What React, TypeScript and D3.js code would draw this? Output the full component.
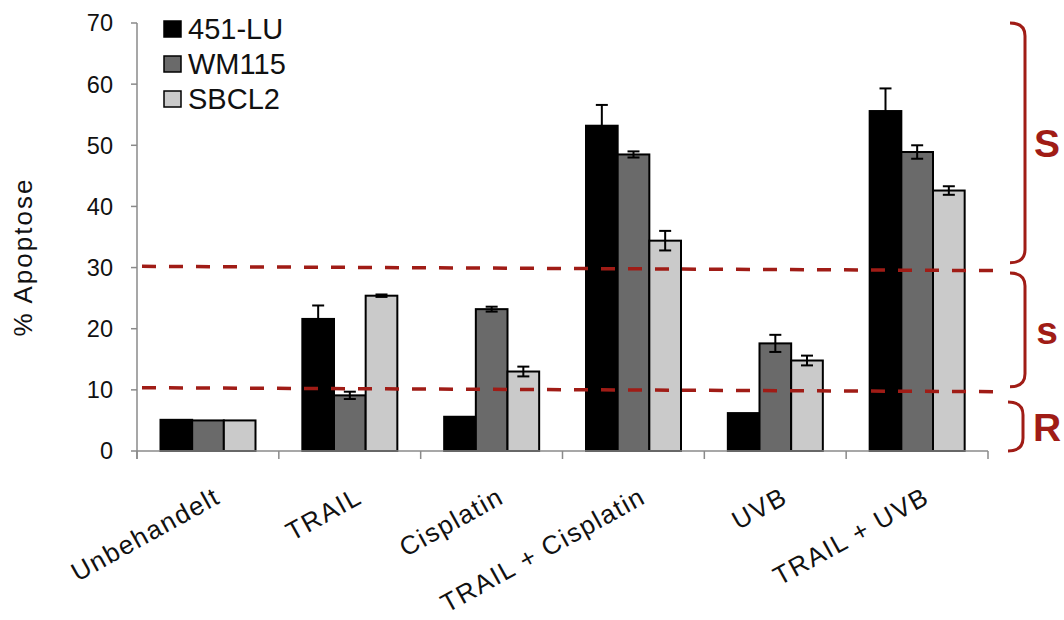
import React from "react";
import * as d3 from "d3";

// data
const categories = ["Unbehandelt", "TRAIL", "Cisplatin", "TRAIL + Cisplatin", "UVB", "TRAIL + UVB"];
const series = ["451-LU", "WM115", "SBCL2"];
const colors = ["#000000", "#6a6a6a", "#cacaca"];

const lu451 = [5.1, 21.6, 5.6, 53.2, 6.2, 55.6];
const lu451Err = [0, 2.2, 0, 3.4, 0, 3.7];
const wm115 = [5.0, 9.1, 23.2, 48.5, 17.6, 48.9];
const wm115Err = [0, 0.6, 0.4, 0.5, 1.4, 1.1];
const sbcl2 = [5.0, 25.4, 13.0, 34.4, 14.8, 42.6];
const sbcl2Err = [0, 0.2, 0.8, 1.6, 0.8, 0.7];

const yTicks = [0, 10, 20, 30, 40, 50, 60, 70];

// dashed threshold lines (value at left end, value at right end)
const thresholds = [
  { left: 30.2, right: 29.5 },
  { left: 10.35, right: 9.7 },
];

// bracket ranges with their labels
const brackets = [
  { label: "S", from: 70, to: 30.8, x: 1025 },
  { label: "s", from: 29.1, to: 10.5, x: 1025 },
  { label: "R", from: 8.0, to: 0, x: 1023 },
];

const red = "#a01c16";
const font = "'Liberation Sans', Arial, sans-serif";

export default function App() {
  const width = 1064;
  const height = 620;

  const x = d3.scaleBand().domain(categories).range([137, 988]).padding(0);
  const xs = d3.scaleBand().domain(series).range([23.5, 118.5]).padding(0);
  const y = d3.scaleLinear().domain([0, 70]).range([451, 23]);

  const values = [lu451, wm115, sbcl2];
  const errs = [lu451Err, wm115Err, sbcl2Err];

  const bracketPath = (x0: number, y0: number, y1: number) => {
    const r = 13;
    return `M${x0 - 15},${y0} Q${x0},${y0} ${x0},${y0 + r} L${x0},${y1 - r} Q${x0},${y1} ${x0 - 15},${y1}`;
  };

  return (
    <svg width={width} height={height} style={{ position: "absolute", left: 0, top: 0, background: "#fff" }}>
      {/* y axis */}
      <line x1={137} x2={137} y1={y(70)} y2={459} stroke="#8a8a8a" strokeWidth={1.5} />
      {yTicks.map((t) => (
        <g key={t}>
          <line x1={131} x2={137} y1={y(t)} y2={y(t)} stroke="#8a8a8a" strokeWidth={1.5} />
          <text x={113} y={y(t)} dy="0.36em" textAnchor="end" fontFamily={font} fontSize={23.5} fill="#111">
            {t}
          </text>
        </g>
      ))}
      <text
        transform={`translate(32,257) rotate(-90)`}
        textAnchor="middle"
        fontFamily={font}
        fontSize={26}
        letterSpacing={2}
        fill="#111"
      >
        % Apoptose
      </text>

      {/* bars */}
      {categories.map((c, i) => (
        <g key={c} transform={`translate(${x(c)},0)`}>
          {series.map((s, j) => {
            const v = values[j][i];
            const e = errs[j][i];
            const bx = xs(s)!;
            const bw = xs.bandwidth();
            const cx = bx + bw / 2;
            return (
              <g key={s}>
                <rect x={bx} y={y(v)} width={bw} height={y(0) - y(v)} fill={colors[j]} stroke="#000" strokeWidth={2} />
                {e > 0 && (
                  <g stroke="#000" strokeWidth={2}>
                    <line x1={cx} x2={cx} y1={y(v + e)} y2={y(v - e)} />
                    <line x1={cx - 6} x2={cx + 6} y1={y(v + e)} y2={y(v + e)} />
                    <line x1={cx - 6} x2={cx + 6} y1={y(v - e)} y2={y(v - e)} />
                  </g>
                )}
              </g>
            );
          })}
        </g>
      ))}

      {/* x axis */}
      <line x1={137} x2={988} y1={451} y2={451} stroke="#8a8a8a" strokeWidth={1.5} />
      {[...categories.map((c) => x(c)!), 988].map((t, i) => (
        <line key={i} x1={t} x2={t} y1={451} y2={459} stroke="#8a8a8a" strokeWidth={1.5} />
      ))}
      {categories.map((c) => {
        const cx = x(c)! + x.bandwidth() / 2;
        return (
          <text
            key={c}
            transform={`translate(${cx + 14},502) rotate(-29)`}
            textAnchor="end"
            fontFamily={font}
            fontSize={26}
            letterSpacing={1.6}
            fill="#111"
          >
            {c}
          </text>
        );
      })}

      {/* thresholds */}
      {thresholds.map((t, i) => (
        <line
          key={i}
          x1={142}
          x2={995}
          y1={y(t.left)}
          y2={y(t.right)}
          stroke={red}
          strokeWidth={3.5}
          strokeDasharray="14 13"
        />
      ))}

      {/* brackets */}
      {brackets.map((b) => (
        <g key={b.label}>
          <path d={bracketPath(b.x, y(b.from), y(b.to))} fill="none" stroke={red} strokeWidth={3} />
          <text
            x={1047}
            y={(y(b.from) + y(b.to)) / 2}
            dy="0.36em"
            textAnchor="middle"
            fontFamily={font}
            fontSize={39}
            fontWeight="bold"
            fill={red}
          >
            {b.label}
          </text>
        </g>
      ))}

      {/* legend */}
      {series.map((s, j) => (
        <g key={s} transform={`translate(164,${21 + j * 35})`}>
          <rect width={17} height={16} fill={colors[j]} stroke="#000" strokeWidth={1.5} />
          <text x={24} y={8} dy="0.36em" fontFamily={font} fontSize={29} fill="#111">
            {s}
          </text>
        </g>
      ))}
    </svg>
  );
}
